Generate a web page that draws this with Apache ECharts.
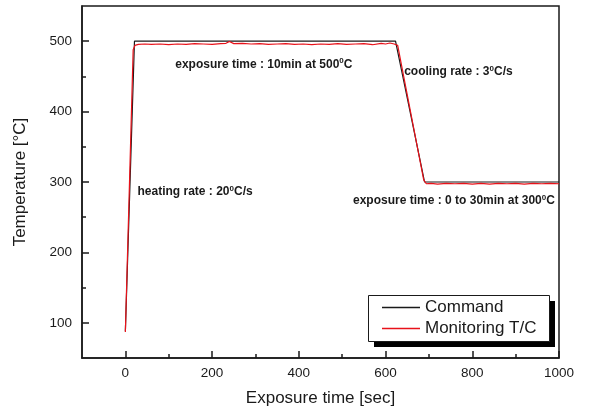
<!DOCTYPE html>
<html>
<head>
<meta charset="utf-8">
<script src="https://cdn.jsdelivr.net/npm/echarts@6/dist/echarts.min.js"></script>
<style>
  html, body { margin: 0; padding: 0; background: #fff; }
  #chart { width: 590px; height: 412px; }
</style>
</head>
<body>
<div id="chart"></div>
<script>
// command profile (setpoint)
const cmdTime = [0, 21, 623, 690, 1000]
const cmdTemp = [88, 500, 500, 300, 300]

// thermocouple reading
const tcTime = [0, 18, 22, 30, 45, 60, 80, 100, 120, 140, 160, 180, 200, 220, 232, 240, 250,
  270, 290, 310, 330, 350, 370, 390, 410, 430, 450, 470, 490, 510, 530, 550, 570, 590,
  600, 610, 620, 628, 688, 694, 705, 720, 740, 760, 780, 800, 820, 840, 860, 880, 900,
  920, 940, 960, 980, 1000]
const tcTemp = [87, 488, 494, 495.5, 496, 495.5, 496, 495, 496, 495.5, 496.5, 496, 495.5, 496.5, 497, 499.5, 496.5,
  497, 496, 496.5, 495.5, 496, 496.5, 495.5, 496, 495, 496, 495.5, 496.5, 495.5, 496, 496.5, 495, 497,
  496, 497.5, 496, 494, 303, 297.5, 298, 297, 298, 297.5, 298, 297, 298, 297, 298, 297.5, 298,
  297, 298, 297.5, 298, 297.5]

// axis ticks
const xMajor = [0, 200, 400, 600, 800, 1000]
const xMinor = [100, 300, 500, 700, 900]
const yMajor = [100, 200, 300, 400, 500]
const yMinor = [150, 250, 350, 450]

// annotations (data coords)
const annoX = [115, 643, 28, 525]
const annoY = [467, 456, 286, 273]
const annoText = [
  '{a|exposure time : 10min at 500}{s|0}{a|C}',
  '{a|cooling rate : 3}{s|0}{a|C/s}',
  '{a|heating rate : 20}{s|0}{a|C/s}',
  '{a|exposure time : 0 to 30min at 300}{s|0}{a|C}'
]

const font = 'Liberation Sans, Arial, sans-serif'
const ink = '#1a1a1a'
const red = '#e8121a'

const chart = echarts.init(document.getElementById('chart'))

function pairs(xs, ys) {
  return xs.map((x, i) => [x, ys[i]])
}

const baseAxis = {
  type: 'value',
  splitLine: { show: false },
  axisLine: { show: true, onZero: false, lineStyle: { color: ink, width: 1.5 } }
}

chart.setOption({
  animation: false,
  textStyle: { fontFamily: font },
  grid: {
    left: 82, right: 31, top: 6, bottom: 54,
    outerBoundsMode: 'none',
    containLabel: false,
    show: true, borderColor: ink, borderWidth: 1.5
  },
  // legend frame with its drop shadow
  graphic: [{
    type: 'rect', z: 3,
    shape: { x: 374, y: 301, width: 181, height: 46 },
    style: { fill: '#000' }
  }, {
    type: 'rect', z: 3,
    shape: { x: 368.5, y: 295.5, width: 181, height: 46 },
    style: { fill: '#fff', stroke: ink, lineWidth: 1 }
  }],
  legend: {
    left: 368, top: 295, z: 5,
    orient: 'vertical',
    padding: [4, 12, 4, 14],
    itemWidth: 38, itemHeight: 1.5, itemGap: 4,
    data: [
      { name: 'Command', icon: 'rect' },
      { name: 'Monitoring T/C', icon: 'rect' }
    ],
    textStyle: { fontSize: 17, color: ink, fontFamily: font, lineHeight: 17 }
  },
  xAxis: [{
    ...baseAxis,
    min: -100, max: 1000,
    position: 'bottom',
    name: 'Exposure time [sec]',
    nameLocation: 'middle', nameGap: 32,
    nameTextStyle: { fontSize: 17, color: ink },
    axisTick: { inside: true, length: 7, customValues: xMajor, lineStyle: { color: ink, width: 1.5 } },
    axisLabel: { customValues: xMajor, fontSize: 13.5, color: ink, margin: 8, formatter: v => String(v) }
  }, {
    ...baseAxis,
    min: -100, max: 1000,
    position: 'bottom',
    axisLine: { show: false, onZero: false },
    axisTick: { inside: true, length: 4, customValues: xMinor, lineStyle: { color: ink, width: 1.5 } },
    axisLabel: { show: false }
  }],
  yAxis: [{
    ...baseAxis,
    min: 50, max: 550,
    position: 'left',
    name: 'Temperature [°C]',
    nameLocation: 'middle', nameGap: 53,
    nameTextStyle: { fontSize: 17, color: ink },
    axisTick: { inside: true, length: 7, customValues: yMajor, lineStyle: { color: ink, width: 1.5 } },
    axisLabel: { customValues: yMajor, fontSize: 13.5, color: ink, margin: 10 }
  }, {
    ...baseAxis,
    min: 50, max: 550,
    position: 'left',
    axisLine: { show: false, onZero: false },
    axisTick: { inside: true, length: 4, customValues: yMinor, lineStyle: { color: ink, width: 1.5 } },
    axisLabel: { show: false }
  }],
  series: [{
    name: 'Command',
    type: 'line',
    symbol: 'none',
    data: pairs(cmdTime, cmdTemp),
    lineStyle: { color: ink, width: 1.2 },
    itemStyle: { color: ink }
  }, {
    name: 'Monitoring T/C',
    type: 'line',
    symbol: 'none',
    data: pairs(tcTime, tcTemp),
    lineStyle: { color: red, width: 1.2 },
    itemStyle: { color: red },
    markPoint: {
      symbol: 'circle', symbolSize: 0,
      label: {
        show: true, position: 'right', distance: 0,
        rich: {
          a: { fontSize: 12, fontWeight: 'bold', color: ink, lineHeight: 15, fontFamily: font },
          s: { fontSize: 8, fontWeight: 'bold', color: ink, lineHeight: 8, verticalAlign: 'top', fontFamily: font }
        }
      },
      data: annoText.map((t, i) => ({
        coord: [annoX[i], annoY[i]],
        label: { formatter: t }
      }))
    }
  }]
})
</script>
</body>
</html>
